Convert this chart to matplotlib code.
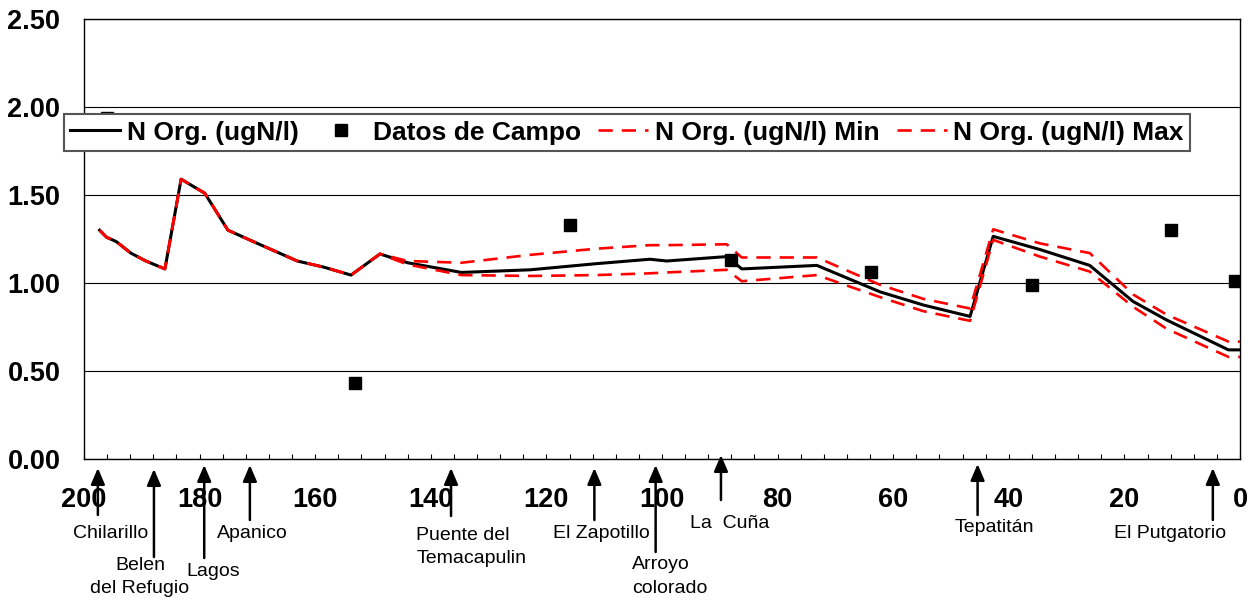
import matplotlib.pyplot as plt
from matplotlib import transforms
import numpy as np

plt.rcParams['font.family'] = ['Liberation Sans', 'DejaVu Sans']

# distancia al origen (km) de los nodos del modelo
dist = [197.3, 196.1, 194.4, 191.9, 189.3, 186.0, 183.2, 179.1, 175.1, 170.0,
        163.1, 158.5, 153.8, 148.8, 144.0, 134.7, 122.8, 111.3, 102.1, 99.2,
        88.8, 86.2, 73.2, 62.3, 54.8, 46.7, 42.7, 34.6, 26.0, 18.5, 12.7, 2.0, 0.0]
n_org = [1.30, 1.26, 1.235, 1.17, 1.125, 1.08, 1.59, 1.51, 1.30, 1.225,
         1.125, 1.09, 1.045, 1.165, 1.115, 1.06, 1.075, 1.11, 1.135, 1.125,
         1.15, 1.08, 1.10, 0.95, 0.875, 0.81, 1.265, 1.19, 1.10, 0.895, 0.79, 0.62, 0.62]
n_min = [1.30, 1.26, 1.235, 1.17, 1.125, 1.08, 1.59, 1.51, 1.30, 1.225,
         1.125, 1.09, 1.045, 1.165, 1.105, 1.045, 1.04, 1.045, 1.055, 1.06,
         1.075, 1.01, 1.045, 0.92, 0.84, 0.785, 1.245, 1.15, 1.065, 0.865, 0.74, 0.58, 0.58]
n_max = [1.30, 1.26, 1.235, 1.17, 1.125, 1.08, 1.59, 1.51, 1.30, 1.225,
         1.125, 1.09, 1.045, 1.165, 1.125, 1.115, 1.16, 1.195, 1.215, 1.215,
         1.22, 1.145, 1.145, 0.99, 0.91, 0.855, 1.305, 1.225, 1.17, 0.935, 0.82, 0.667, 0.667]

# datos de campo
campo_km = [196.1, 153.1, 116.0, 88.1, 63.9, 36.0, 11.9, 0.9]
campo_val = [1.94, 0.43, 1.33, 1.13, 1.06, 0.99, 1.30, 1.01]

# estaciones
estaciones = ['Chilarillo', 'Belen\ndel Refugio', 'Lagos', 'Apanico',
              'Puente del\nTemacapulin', 'El Zapotillo', 'Arroyo\ncolorado',
              'La  Cuña', 'Tepatitán', 'El Putgatorio']
estacion_km = [197.6, 187.9, 179.2, 171.3, 136.5, 111.7, 101.1, 89.8, 45.4, 4.7]

# layout of the arrows/labels (pixels below the x axis)
tip_px = [9, 10, 6, 6, 9, 9, 6, -4, 5, 9]
tail_px = [56, 98, 99, 61, 57, 61, 93, 41, 56, 61]
lab_dx = [13, -14, 8.5, 2.5, -34.7, 7, -23.3, -30.7, 17, -42.7]
lab_dy = [74, 118, 113, 75, 88, 75, 117.5, 64, 69, 74]
lab_ha = ['center', 'center', 'center', 'center', 'left', 'center', 'left',
          'left', 'center', 'center']

fig = plt.figure(figsize=(12.57, 6.03), dpi=100)
ax = fig.add_axes([84 / 1257, 1 - 459 / 603, 1156 / 1257, 440 / 603])

ax.plot(dist, n_org, color='black', lw=2.2, label='N Org. (ugN/l)', zorder=3)
ax.plot(campo_km, campo_val, ls='none', marker='s', ms=9, color='black',
        label='Datos de Campo', zorder=4)
ax.plot(dist, n_min, color='red', lw=1.9, ls=(0, (5.4, 3.4)),
        label='N Org. (ugN/l) Min', zorder=3)
ax.plot(dist, n_max, color='red', lw=1.9, ls=(0, (5.4, 3.4)),
        label='N Org. (ugN/l) Max', zorder=3)

ax.set_xlim(200, 0)
ax.set_ylim(0, 2.5)
ax.set_xticks(np.arange(200, -1, -20))
ax.set_xticks(np.arange(200, -1, -4), minor=True)
ax.set_yticks(np.arange(0, 2.51, 0.5))
ax.set_yticklabels(['%.2f' % v for v in np.arange(0, 2.51, 0.5)])
ax.grid(axis='y', color='black', lw=0.8)
ax.set_axisbelow(True)
for s in ax.spines.values():
    s.set_linewidth(1.0)

ax.tick_params(axis='x', which='both', direction='in', length=3.5, width=0.8,
               pad=20, labelsize=19.5)
ax.tick_params(axis='y', length=0, pad=17, labelsize=19.5)
for t in ax.get_xticklabels() + ax.get_yticklabels():
    t.set_fontweight('bold')

leg = ax.legend(loc='center', bbox_to_anchor=(627 / 1257, 1 - 132.5 / 603),
                bbox_transform=fig.transFigure, ncol=4, frameon=True,
                fancybox=False, edgecolor='#555555', framealpha=1,
                borderpad=0.25, handlelength=1.9, handletextpad=0.25,
                columnspacing=0.65, borderaxespad=0,
                prop={'weight': 'bold', 'size': 19})
leg.get_frame().set_linewidth(1.5)
leg.set_zorder(10)

base = ax.get_xaxis_transform()
for name, km, tp, tl, dx, dy, ha in zip(estaciones, estacion_km, tip_px, tail_px,
                                         lab_dx, lab_dy, lab_ha):
    tip_tr = transforms.offset_copy(base, fig=fig, x=0, y=-tp, units='dots')
    ax.annotate('', xy=(km, 0), xycoords=tip_tr, xytext=(0, -(tl - tp)),
                textcoords='offset pixels', annotation_clip=False,
                arrowprops=dict(arrowstyle='-|>,head_length=0.7,head_width=0.3',
                                color='black', lw=1.8, mutation_scale=14,
                                shrinkA=0, shrinkB=0))
    ax.annotate(name, xy=(km, 0), xycoords=base, xytext=(dx, -dy),
                textcoords='offset pixels', ha=ha, va='center', fontsize=14,
                linespacing=1.5, annotation_clip=False)

fig.savefig('out.png', dpi=100)
